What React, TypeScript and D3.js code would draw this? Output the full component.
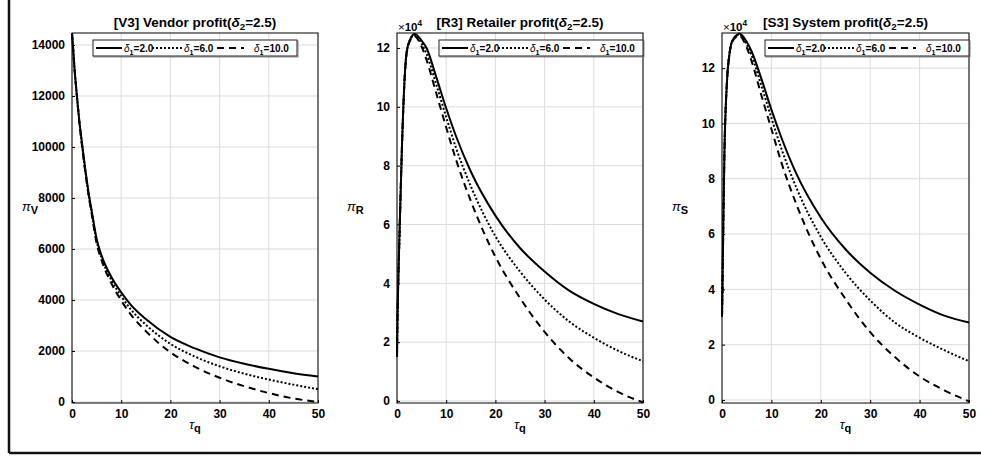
import React, { useEffect, useRef } from 'react';
import * as d3 from 'd3';

// tau_q sample points
const TAU = [0, 0.1, 0.25, 0.5, 1, 1.5, 2, 3, 3.5, 4, 5, 6, 8, 10, 12, 15, 20, 25, 30, 35, 40, 45, 50];

// vendor profit (V3)
const V_D2 = [14450, 14200, 13800, 13100, 12000, 11000, 10200, 8700, 8050, 7500, 6400, 5750, 4900, 4300, 3800, 3250, 2550, 2100, 1750, 1500, 1300, 1130, 1000];
const V_D6 = [14450, 14200, 13800, 13100, 12000, 11000, 10150, 8650, 8000, 7450, 6320, 5660, 4780, 4150, 3620, 3030, 2280, 1780, 1400, 1110, 880, 680, 500];
const V_D10 = [14450, 14200, 13800, 13100, 12000, 10950, 10100, 8600, 7950, 7380, 6230, 5560, 4650, 3980, 3420, 2780, 1950, 1380, 950, 620, 350, 140, 0];

// retailer profit (R3), x10^4
const R_D2 = [1.5, 2.8, 4.0, 5.6, 8.6, 10.8, 11.9, 12.4, 12.48, 12.45, 12.25, 12.0, 11.0, 9.95, 9.0, 7.8, 6.3, 5.2, 4.4, 3.75, 3.3, 2.95, 2.7];
const R_D6 = [1.5, 2.8, 4.0, 5.6, 8.6, 10.8, 11.9, 12.38, 12.45, 12.4, 12.15, 11.8, 10.75, 9.65, 8.6, 7.3, 5.6, 4.4, 3.45, 2.7, 2.15, 1.7, 1.35];
const R_D10 = [1.5, 2.8, 4.0, 5.6, 8.6, 10.8, 11.85, 12.35, 12.42, 12.35, 12.05, 11.6, 10.45, 9.3, 8.2, 6.8, 4.9, 3.5, 2.35, 1.45, 0.8, 0.3, -0.05];

// system profit (S3), x10^4
const S_D2 = [3.0, 4.1, 6.2, 9.0, 11.5, 12.5, 12.95, 13.2, 13.25, 13.2, 12.95, 12.6, 11.6, 10.5, 9.5, 8.2, 6.6, 5.45, 4.6, 3.95, 3.45, 3.05, 2.8];
const S_D6 = [3.0, 4.1, 6.2, 9.0, 11.5, 12.5, 12.95, 13.18, 13.22, 13.15, 12.85, 12.45, 11.35, 10.2, 9.1, 7.7, 5.9, 4.6, 3.6, 2.8, 2.25, 1.8, 1.4];
const S_D10 = [3.0, 4.1, 6.2, 9.0, 11.5, 12.5, 12.9, 13.15, 13.2, 13.1, 12.75, 12.25, 11.0, 9.8, 8.6, 7.1, 5.1, 3.65, 2.45, 1.55, 0.85, 0.35, -0.05];

const X_TICKS = [0, 10, 20, 30, 40, 50];
const V_TICKS = [0, 2000, 4000, 6000, 8000, 10000, 12000, 14000];
const RS_TICKS = [0, 2, 4, 6, 8, 10, 12];
const DELTA1 = ['2.0', '6.0', '10.0'];
const DASHES = [null, '2,2', '7,5'];

const FONT = '"Liberation Sans", Arial, Helvetica, sans-serif';

type Part = { t: string; it?: boolean; sub?: boolean; sup?: boolean; bold?: boolean };

// writes text made of pieces (italic greek, subscripts, superscripts)
function mathText(sel: any, parts: Part[], size: number) {
  let shift = 0;
  parts.forEach((p) => {
    const target = p.sub ? 3 : p.sup ? -5 : 0;
    const ts = sel.append('tspan')
      .attr('dy', target - shift)
      .attr('font-size', p.sub || p.sup ? size * 0.72 : size)
      .text(p.t);
    if (p.it) ts.attr('font-style', 'italic');
    if (p.bold === false) ts.attr('font-weight', 'normal');
    shift = target;
  });
}

const App = () => {
  const svgRef = useRef<SVGSVGElement>(null);

  useEffect(() => {
    const svg = d3.select(svgRef.current);
    svg.selectAll('*').remove();

    const panels = [
      { tag: '[V3] Vendor profit(', ylab: 'V', series: [V_D2, V_D6, V_D10], ticks: V_TICKS, dom: [-40, 14470], left: 72, right: 318, exp: false, legendCenter: true },
      { tag: '[R3] Retailer profit(', ylab: 'R', series: [R_D2, R_D6, R_D10], ticks: RS_TICKS, dom: [-0.07, 12.51], left: 397, right: 643, exp: true, legendCenter: false },
      { tag: '[S3] System profit(', ylab: 'S', series: [S_D2, S_D6, S_D10], ticks: RS_TICKS, dom: [-0.11, 13.27], left: 722, right: 969, exp: true, legendCenter: false },
    ];
    const top = 33;
    const bottom = 403;

    panels.forEach((p) => {
      const x = d3.scaleLinear().domain([0, 50]).range([p.left, p.right]);
      const y = d3.scaleLinear().domain(p.dom).range([bottom, top]);
      const g = svg.append('g');

      // grid
      g.append('g').selectAll('line').data(X_TICKS).join('line')
        .attr('x1', (d) => x(d)).attr('x2', (d) => x(d))
        .attr('y1', top).attr('y2', bottom)
        .attr('stroke', '#dcdcdc').attr('stroke-width', 1);
      g.append('g').selectAll('line').data(p.ticks).join('line')
        .attr('y1', (d) => y(d)).attr('y2', (d) => y(d))
        .attr('x1', p.left).attr('x2', p.right)
        .attr('stroke', '#dcdcdc').attr('stroke-width', 1);

      // axes
      const xa = g.append('g').attr('transform', `translate(0,${bottom})`)
        .call(d3.axisBottom(x).tickValues(X_TICKS).tickSize(-3).tickPadding(6).tickFormat(d3.format('d')));
      const ya = g.append('g').attr('transform', `translate(${p.left},0)`)
        .call(d3.axisLeft(y).tickValues(p.ticks).tickSize(-3).tickPadding(7).tickFormat(d3.format('d')));
      [xa, ya].forEach((a) => {
        a.select('.domain').remove();
        a.selectAll('line').attr('stroke', '#000');
        a.selectAll('text').attr('font-family', FONT).attr('font-size', 12)
          .attr('font-weight', 'bold').attr('fill', '#000');
      });

      // curves
      const line = d3.line<number>()
        .x((_, i) => x(TAU[i]))
        .y((d) => y(d))
        .curve(d3.curveMonotoneX);
      p.series.forEach((s, i) => {
        g.append('path').datum(s).attr('d', line)
          .attr('fill', 'none').attr('stroke', '#000').attr('stroke-width', 2)
          .attr('stroke-dasharray', DASHES[i]);
      });

      // box
      g.append('rect').attr('x', p.left).attr('y', top)
        .attr('width', p.right - p.left).attr('height', bottom - top)
        .attr('fill', 'none').attr('stroke', '#000').attr('stroke-width', 1);

      const cx = (p.left + p.right) / 2;

      // title
      const title = g.append('text').attr('x', cx).attr('y', 27).attr('text-anchor', 'middle')
        .attr('font-family', FONT).attr('font-weight', 'bold').attr('font-size', 13.5);
      mathText(title, [{ t: p.tag }, { t: 'δ', it: true }, { t: '2', sub: true }, { t: '=2.5)' }], 13.5);

      // exponent
      if (p.exp) {
        const ex = g.append('text').attr('x', p.left + 1).attr('y', 31)
          .attr('font-family', FONT).attr('font-weight', 'bold').attr('font-size', 11.5);
        mathText(ex, [{ t: '×', bold: false }, { t: '10' }, { t: '4', sup: true }], 11.5);
      }

      // y label
      const yl = g.append('text').attr('x', p.left - 50).attr('y', 211)
        .attr('font-family', FONT).attr('font-size', 11);
      mathText(yl, [{ t: 'π', it: true }, { t: p.ylab, sub: true }], 13);
      yl.selectAll('tspan').filter((_, i) => i === 1).attr('font-weight', 'bold').attr('font-size', 11);

      // x label
      const xl = g.append('text').attr('x', cx).attr('y', 429).attr('text-anchor', 'middle')
        .attr('font-family', FONT).attr('font-size', 13);
      mathText(xl, [{ t: 'τ', it: true }, { t: 'q', sub: true }], 13);
      xl.selectAll('tspan').filter((_, i) => i === 1).attr('font-weight', 'bold').attr('font-size', 11);

      // legend
      const lw = 204;
      const lx = p.legendCenter ? cx - lw / 2 : p.right - lw;
      const ly = 40;
      const lh = 16;
      const lg = g.append('g');
      lg.append('rect').attr('x', lx + 1).attr('y', ly + 1).attr('width', lw).attr('height', lh)
        .attr('fill', 'none').attr('stroke', '#888').attr('stroke-width', 1);
      lg.append('rect').attr('x', lx).attr('y', ly).attr('width', lw).attr('height', lh)
        .attr('fill', '#fff').attr('stroke', '#222').attr('stroke-width', 1);
      const sampleStart = [3, 59, 124];
      const sampleEnd = [29, 89, 151];
      const textStart = [31, 91, 161];
      DELTA1.forEach((d, i) => {
        lg.append('line')
          .attr('x1', lx + sampleStart[i]).attr('x2', lx + sampleEnd[i])
          .attr('y1', ly + lh / 2).attr('y2', ly + lh / 2)
          .attr('stroke', '#000').attr('stroke-width', 2)
          .attr('stroke-dasharray', DASHES[i]);
        const t = lg.append('text').attr('x', lx + textStart[i]).attr('y', ly + 11.5)
          .attr('font-family', FONT).attr('font-weight', 'bold').attr('font-size', 10);
        mathText(t, [{ t: 'δ', it: true, bold: false }, { t: '1', sub: true }, { t: '=' + d }], 10);
      });
    });

    // outer frame (left and bottom)
    svg.append('line').attr('x1', 9).attr('x2', 9).attr('y1', 0).attr('y2', 453)
      .attr('stroke', '#111').attr('stroke-width', 2.5);
    svg.append('line').attr('x1', 9).attr('x2', 981).attr('y1', 453).attr('y2', 453)
      .attr('stroke', '#111').attr('stroke-width', 2.5);
  }, []);

  return (
    <svg
      ref={svgRef}
      width={981}
      height={456}
      style={{ position: 'absolute', left: 0, top: 0, background: '#fff' }}
    />
  );
};

export default App;
